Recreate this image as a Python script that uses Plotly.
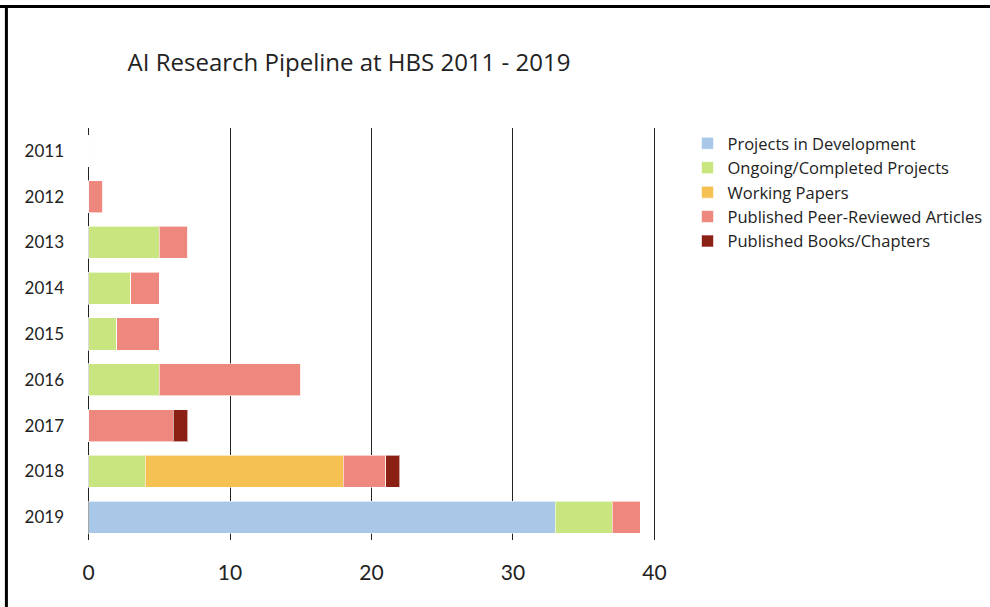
import plotly.graph_objects as go

years = ["2011", "2012", "2013", "2014", "2015", "2016", "2017", "2018", "2019"]
series_names = [
    "Projects in Development",
    "Ongoing/Completed Projects",
    "Working Papers",
    "Published Peer-Reviewed Articles",
    "Published Books/Chapters",
]
dev = [0, 0, 0, 0, 0, 0, 0, 0, 33]
ongoing = [0, 0, 5, 3, 2, 5, 0, 4, 4]
working = [0, 0, 0, 0, 0, 0, 0, 14, 0]
peer = [0, 1, 2, 2, 3, 10, 6, 3, 2]
books = [0, 0, 0, 0, 0, 0, 1, 1, 0]
x_ticks = [0, 10, 20, 30, 40]

colors = ["#A9C8E8", "#C8E57F", "#F5C152", "#EE877D", "#8B2015"]
values = [dev, ongoing, working, peer, books]

FONT = "Lato"
FONT2 = "Open Sans"

fig = go.Figure()
for name, vals, col in zip(series_names, values, colors):
    fig.add_trace(go.Bar(
        y=years, x=vals, name=name, orientation="h",
        marker=dict(color=col, line=dict(color="rgba(255,255,255,0.6)", width=1)),
    ))

W, H = 990, 607
# x scale: 0 -> 89px, 40 -> 654px
X0, X1 = -0.25, 40.25
ppu = (654 - 89) / 40
L = 89 + X0 * ppu
pw = (X1 - X0) * ppu
R = W - L - pw
T, B = 128, 67
ph = H - T - B

def px_x(p):
    return (p - L) / pw

def px_y(p):
    return (H - B - p) / ph

fig.update_layout(
    width=W, height=H,
    barmode="stack", bargap=0.3,
    plot_bgcolor="white", paper_bgcolor="white",
    margin=dict(l=L, r=R, t=T, b=B, autoexpand=False),
    font=dict(family=FONT, color="#222"),
    title=dict(text="AI Research Pipeline at HBS 2011 - 2019",
               x=px_x(128), xref="paper", xanchor="left",
               y=1 - 63 / H, yanchor="middle",
               font=dict(size=24, family=FONT2, color="#222")),
    xaxis=dict(range=[X0, X1], tickvals=x_ticks, showgrid=True, gridcolor="#222",
               gridwidth=1, zeroline=True, zerolinecolor="#222", zerolinewidth=1,
               tickfont=dict(size=21, family=FONT, color="#222"), ticks="",
               ticklabelstandoff=18,
               showline=False, ticklen=0, automargin=False),
    yaxis=dict(autorange=False, range=[8.5, -0.5], categoryorder="array",
               categoryarray=years, tickfont=dict(size=17, family=FONT, color="#222"),
               ticks="", ticklabelstandoff=20, showgrid=False, automargin=False),
    legend=dict(x=px_x(687), y=px_y(126), xanchor="left", yanchor="top",
                font=dict(size=16.5, family=FONT2, color="#222"),
                traceorder="normal", tracegroupgap=0, itemwidth=30,
                bgcolor="rgba(0,0,0,0)"),
    shapes=[
        dict(type="line", xref="paper", yref="paper", x0=px_x(0), x1=px_x(W),
             y0=px_y(6.5), y1=px_y(6.5), line=dict(color="black", width=3)),
        dict(type="line", xref="paper", yref="paper", x0=px_x(7), x1=px_x(7),
             y0=px_y(5), y1=px_y(H), line=dict(color="black", width=3)),
    ],
)

fig.write_html("out.html")
